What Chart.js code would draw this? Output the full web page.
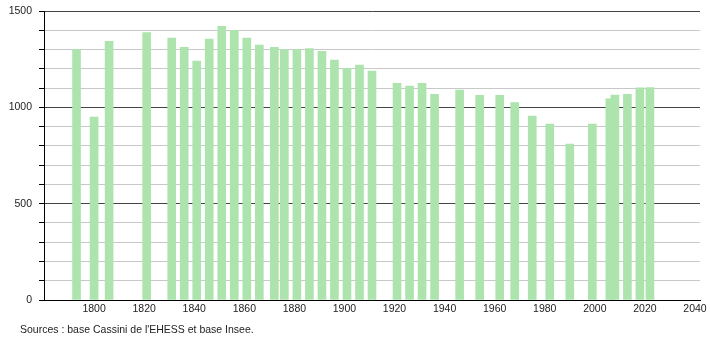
<!DOCTYPE html>
<html>
<head>
<meta charset="utf-8">
<script src="https://cdn.jsdelivr.net/npm/chart.js"></script>
<style>
  html, body { margin: 0; padding: 0; background: #fff; }
  #wrap { position: relative; width: 710px; height: 340px; }
  #source {
    position: absolute; left: 20px; top: 323px;
    font: 10.5px "Liberation Sans", Arial, sans-serif; color: #222;
  }
</style>
</head>
<body>
<div id="wrap">
  <canvas id="chart" width="710" height="340"></canvas>
  <div id="source">Sources : base Cassini de l'EHESS et base Insee.</div>
</div>
<script>
const years = [1793, 1800, 1806, 1821, 1831, 1836, 1841, 1846, 1851, 1856, 1861, 1866,
  1872, 1876, 1881, 1886, 1891, 1896, 1901, 1906, 1911, 1921, 1926, 1931, 1936,
  1946, 1954, 1962, 1968, 1975, 1982, 1990, 1999, 2006, 2008, 2013, 2018, 2022];
const population = [1300, 950, 1343, 1388, 1359, 1312, 1240, 1354, 1421, 1400, 1359, 1323,
  1312, 1300, 1300, 1305, 1291, 1245, 1202, 1219, 1188, 1124, 1110, 1124, 1068,
  1089, 1062, 1062, 1025, 954, 913, 809, 913, 1044, 1063, 1068, 1101, 1103];
const xTicks = [1800, 1820, 1840, 1860, 1880, 1900, 1920, 1940, 1960, 1980, 2000, 2020, 2040];
const yLabels = [0, 500, 1000, 1500];

const font = { family: "'Liberation Sans', Arial, sans-serif", size: 10.5 };

new Chart(document.getElementById("chart"), {
  type: "bar",
  data: {
    datasets: [{
      data: years.map((y, i) => ({ x: y, y: population[i] })),
      backgroundColor: "#ade4ad",
      barThickness: 8,
    }],
  },
  options: {
    responsive: false,
    animation: false,
    layout: { padding: { top: 11, right: 10, left: 0, bottom: 0 } },
    plugins: { legend: { display: false }, tooltip: { enabled: false } },
    scales: {
      x: {
        type: "linear",
        offset: false,
        min: 1780,
        max: 2042,
        afterBuildTicks: (scale) => {
          scale.ticks = xTicks.map((v) => ({ value: v }));
        },
        afterFit: (scale) => {
          scale.height = 40;
          scale.paddingLeft = 0;
          scale.paddingRight = 0;
        },
        grid: { display: false, drawTicks: false },
        border: { color: "#000", width: 1 },
        ticks: { font, color: "#222", padding: 3, maxRotation: 0, callback: (v) => String(v) },
      },
      y: {
        min: 0,
        max: 1500,
        afterFit: (scale) => {
          scale.width = 44;
          scale.paddingTop = 0;
          scale.paddingBottom = 0;
        },
        border: { color: "#000", width: 1 },
        grid: {
          color: (c) => (c.tick && c.tick.value % 500 === 0 ? "#444" : "#c8c8c8"),
          tickColor: "#000",
          tickLength: 5,
        },
        ticks: {
          stepSize: 100,
          font,
          color: "#222",
          padding: 7,
          callback: (v) => (yLabels.includes(v) ? String(v) : ""),
        },
      },
    },
  },
});
</script>
</body>
</html>
